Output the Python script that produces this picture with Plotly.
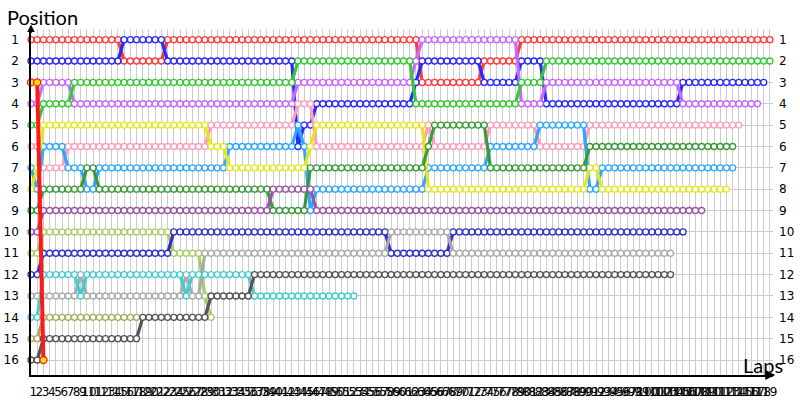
import plotly.graph_objects as go

# ---- data: for each car, (first lap, position) change points; position held until next change ----
LAST_LAP = 119
lap_labels = [str(k) for k in range(1, LAST_LAP + 1)]
positions = list(range(1, 17))

red_changes = [(0, 1), (15, 2), (22, 1), (63, 3), (73, 2), (79, 1)]
red_last = 119
blue_changes = [(0, 2), (15, 1), (22, 2), (43, 6), (44, 5), (46, 4), (62, 3), (63, 2), (73, 3), (79, 2), (83, 4), (105, 3)]
blue_last = 118
violet_changes = [(0, 4), (2, 3), (7, 4), (43, 3), (62, 2), (63, 1), (79, 4), (83, 3), (105, 4)]
violet_last = 117
green_changes = [(0, 5), (2, 4), (7, 3), (43, 2), (62, 4), (79, 3), (83, 2)]
green_last = 119
pink_changes = [(0, 6), (2, 7), (6, 6), (29, 5), (43, 4), (46, 6), (64, 5), (65, 6), (74, 5), (82, 6), (90, 5)]
pink_last = 114
sky_changes = [(0, 7), (1, 8), (2, 6), (6, 7), (9, 8), (11, 7), (32, 6), (43, 5), (44, 6), (45, 9), (46, 8),
               (64, 7), (74, 6), (82, 5), (90, 8), (92, 7)]
sky_last = 113
yellow_changes = [(0, 8), (1, 7), (2, 5), (29, 6), (32, 7), (45, 6), (46, 5), (64, 8), (90, 7), (92, 8)]
yellow_last = 112
dkgreen_changes = [(0, 9), (2, 8), (9, 7), (11, 8), (39, 9), (45, 7), (64, 6), (65, 5), (74, 7), (90, 6)]
dkgreen_last = 113
purple_changes = [(0, 10), (2, 9), (39, 8), (46, 9)]
purple_last = 108
lime_changes = [(0, 11), (2, 10), (23, 11), (28, 13), (29, 14)]
lime_last = 29
navy_changes = [(0, 12), (2, 11), (23, 10), (58, 11), (68, 10)]
navy_last = 105
silver_changes = [(0, 13), (8, 12), (9, 13), (25, 12), (26, 13), (28, 11), (58, 10), (68, 11)]
silver_last = 103
cyan_changes = [(0, 14), (2, 12), (8, 13), (9, 12), (25, 13), (26, 12), (36, 13)]
cyan_last = 52
khaki_changes = [(0, 15), (2, 14)]
khaki_last = 17
dkgray_changes = [(0, 16), (2, 15), (18, 14), (29, 13), (36, 12)]
dkgray_last = 103
retired_changes = [(0, 3), (2, 16)]
retired_last = 2

cars = [
    (red_changes, red_last, "#FF3B3B"),
    (blue_changes, blue_last, "#2A2AFF"),
    (violet_changes, violet_last, "#C768FF"),
    (green_changes, green_last, "#36C936"),
    (pink_changes, pink_last, "#FF9DBD"),
    (sky_changes, sky_last, "#2EA8FF"),
    (yellow_changes, yellow_last, "#E6E61E"),
    (dkgreen_changes, dkgreen_last, "#3A9A3A"),
    (purple_changes, purple_last, "#9A55AA"),
    (lime_changes, lime_last, "#A9CC66"),
    (navy_changes, navy_last, "#3030C8"),
    (silver_changes, silver_last, "#ABABAB"),
    (cyan_changes, cyan_last, "#44CCCC"),
    (khaki_changes, khaki_last, "#A8A866"),
    (dkgray_changes, dkgray_last, "#555555"),
]


def expand(changes, last):
    xs, ys = [], []
    for lap in range(0, last + 1):
        pos = None
        for start, p in changes:
            if start <= lap:
                pos = p
        xs.append(lap)
        ys.append(pos)
    return xs, ys


fig = go.Figure()
for changes, last, color in cars:
    xs, ys = expand(changes, last)
    fig.add_trace(go.Scatter(
        x=xs, y=ys, mode="lines+markers", cliponaxis=False, hoverinfo="skip",
        line=dict(color=color, width=3.2),
        marker=dict(size=6, color="white", line=dict(color=color, width=1.35)),
    ))

xs, ys = expand(retired_changes, retired_last)
fig.add_trace(go.Scatter(
    x=xs, y=ys, mode="lines+markers", cliponaxis=False, hoverinfo="skip",
    line=dict(color="#FF1A1A", width=4),
    marker=dict(size=7, color="#FFE600", line=dict(color="#FF2020", width=1.4)),
))

# invisible trace for right-hand axis
fig.add_trace(go.Scatter(x=[0], y=[1], yaxis="y2", mode="markers",
                         marker=dict(opacity=0), hoverinfo="skip"))

tickfont = dict(family="DejaVu Sans", size=12, color="black")
fig.update_layout(
    template="none",
    width=800, height=400,
    margin=dict(l=31, r=27, t=29, b=25, autoexpand=False),
    paper_bgcolor="white", plot_bgcolor="white",
    showlegend=False,
    hovermode=False,
    font=dict(family="DejaVu Sans", color="black"),
    xaxis=dict(
        range=[0, 119.5], tickvals=list(range(1, LAST_LAP + 1)), ticktext=lap_labels,
        tickangle=0, tickfont=dict(family="DejaVu Sans", size=12, color="black"),
        ticklabelshift=-4, ticklabelstandoff=5,
        showgrid=True, gridcolor="#CCCCCC", gridwidth=1,
        showline=True, linecolor="black", linewidth=2, zeroline=False,
        ticks="", automargin=False,
    ),
    yaxis=dict(
        range=[16.7, 0.5], tickvals=positions, ticktext=[str(p) for p in positions],
        tickfont=tickfont, ticklabelstandoff=8,
        showgrid=True, gridcolor="#CCCCCC", gridwidth=1,
        showline=True, linecolor="black", linewidth=1.5, zeroline=False,
        ticks="", automargin=False,
    ),
    yaxis2=dict(
        overlaying="y", side="right", range=[16.7, 0.5], tickvals=positions,
        ticktext=[str(p) for p in positions], tickfont=tickfont, ticklabelstandoff=5,
        showgrid=False, showline=False, zeroline=False, ticks="", automargin=False,
    ),
    annotations=[
        dict(text="Position", xref="paper", yref="paper", x=-0.035, y=1.035,
             xanchor="left", yanchor="middle", showarrow=False,
             font=dict(family="Lato", size=20, color="black")),
        dict(text="Laps", xref="paper", yref="paper", x=0.987, y=0.028,
             xanchor="center", yanchor="middle", showarrow=False,
             font=dict(family="Lato", size=20, color="black")),
        dict(text="", xref="paper", yref="paper", x=0, y=1.013, ax=0, ay=10,
             showarrow=True, arrowhead=2, arrowsize=1, arrowwidth=1.5, arrowcolor="black"),
        dict(text="", xref="paper", yref="paper", x=1.003, y=0, ax=-10, ay=0,
             showarrow=True, arrowhead=2, arrowsize=1, arrowwidth=2, arrowcolor="black"),
    ],
)

fig.write_html("out.html", config={"displayModeBar": False},
               post_script="document.body.style.margin='0px';document.body.style.overflow='hidden';")
